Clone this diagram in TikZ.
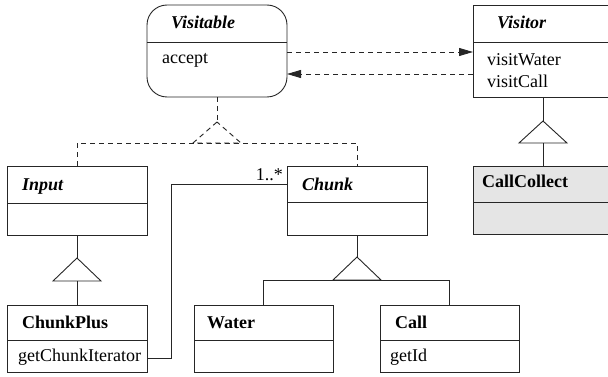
\documentclass[tikz,border=0pt]{standalone}
\usepackage{fontspec}
\setmainfont{Liberation Serif}
\usetikzlibrary{arrows.meta}
\begin{document}
\begin{tikzpicture}[x=1pt,y=-1pt,
  ln/.style={line width=0.9pt, draw=black!85},
  cls/.style={ln, rectangle, inner sep=0pt, outer sep=0pt, minimum width=140pt},
  dep/.style={ln, dash pattern=on 5pt off 4pt},
  tip/.style={-{Triangle[length=14pt,width=8pt]}},
  txt/.style={anchor=base west, inner sep=0pt, font=\fontsize{18}{20}\selectfont},
  nm/.style={txt, font=\fontsize{18}{20}\selectfont\bfseries},
  anm/.style={txt, font=\fontsize{18}{20}\selectfont\bfseries\itshape}
]
\useasboundingbox (0,0) rectangle (608,377);

% class boxes
\node[cls, rounded corners=20pt, minimum height=92pt] (visitable) at (217,51) {};
\node[cls, minimum height=92pt] (visitor) at (543,51) {};
\node[cls, minimum height=68pt, fill=black!10] (callcollect) at (543,200) {};
\node[cls, minimum height=69pt] (input) at (77,200.5) {};
\node[cls, minimum height=69pt] (chunk) at (357,200.5) {};
\node[cls, minimum height=67pt] (chunkplus) at (77,338.5) {};
\node[cls, minimum height=67pt, minimum width=139pt] (water) at (263.5,338.5) {};
\node[cls, minimum height=67pt, minimum width=139pt] (call) at (449.5,338.5) {};

% compartment dividers
\draw[ln] (visitable.west |- 0,42) -- (visitable.east |- 0,42);
\draw[ln] (visitor.west |- 0,42) -- (visitor.east |- 0,42);
\draw[ln] (callcollect.west |- 0,202) -- (callcollect.east |- 0,202);
\draw[ln] (input.west |- 0,203) -- (input.east |- 0,203);
\draw[ln] (chunk.west |- 0,202) -- (chunk.east |- 0,202);
\draw[ln] (chunkplus.west |- 0,340) -- (chunkplus.east |- 0,340);
\draw[ln] (water.west |- 0,340) -- (water.east |- 0,340);
\draw[ln] (call.west |- 0,340) -- (call.east |- 0,340);

% texts
\node[anm] (tvisitable) at (171,29) {Visitable};
\node[txt] (taccept) at (162,64) {accept};
\node[anm] (tvisitor) at (497,29) {Visitor};
\node[txt] (tvw) at (487,66) {visitWater};
\node[txt] (tvc) at (487,88) {visitCall};
\node[nm] (tcc) at (482,188) {CallCollect};
\node[anm] (tinput) at (22,190) {Input};
\node[anm] (tchunk) at (302,190) {Chunk};
\node[nm] (tcp) at (22,328) {ChunkPlus};
\node[txt] (tgci) at (18,361) {getChunkIterator};
\node[nm] (twater) at (207,328) {Water};
\node[nm] (tcall) at (395,328) {Call};
\node[txt] (tgetid) at (390,361) {getId};

% dependencies between Visitable and Visitor
\draw[dep,tip] ([yshift=-1pt]visitable.east) -- ([yshift=-1pt]visitable.east -| visitor.west);
\draw[dep,tip] ([yshift=-23pt]visitor.west) -- ([yshift=-23pt]visitor.west -| visitable.east);

% realization Visitable <- Input, Chunk
\draw[dep] (visitable.south) -- ++(0,25) coordinate (va);
\draw[dep] (va) -- ++(-24,21) -- ++(48,0) -- cycle;
\coordinate (vb) at ([yshift=-21pt]va);
\draw[dep] (input.north) -- (input.north |- vb) -- (chunk.north |- vb) -- (chunk.north);

% Visitor <- CallCollect
\draw[ln] (visitor.south) -- ++(0,24) coordinate (ra);
\draw[ln] (ra) -- ++(-24,22) -- ++(48,0) -- cycle;
\draw[ln] (ra) ++(0,22) -- (callcollect.north);

% Input <- ChunkPlus
\draw[ln] (input.south) -- ++(0,23) coordinate (ia);
\draw[ln] (ia) -- ++(-24,23) -- ++(48,0) -- cycle;
\draw[ln] (ia) ++(0,23) -- (chunkplus.north);

% Chunk <- Water, Call
\draw[ln] (chunk.south) -- ++(0,22) coordinate (ca);
\draw[ln] (ca) -- ++(-24,23) -- ++(48,0) -- cycle;
\coordinate (cb) at ([yshift=-23pt]ca);
\draw[ln] (water.north) -- (water.north |- cb) -- (call.north |- cb) -- (call.north);

% association ChunkPlus -> Chunk
\coordinate (ak) at (171,0);
\draw[ln] ([yshift=-19.5pt]chunkplus.east) -- ([yshift=-19.5pt]chunkplus.east -| ak)
  -- ([yshift=16.5pt]chunk.west -| ak) -- ([yshift=16.5pt]chunk.west);
\node[txt, anchor=base east] (mult) at (283,180) {1..*};
\end{tikzpicture}
\end{document}
